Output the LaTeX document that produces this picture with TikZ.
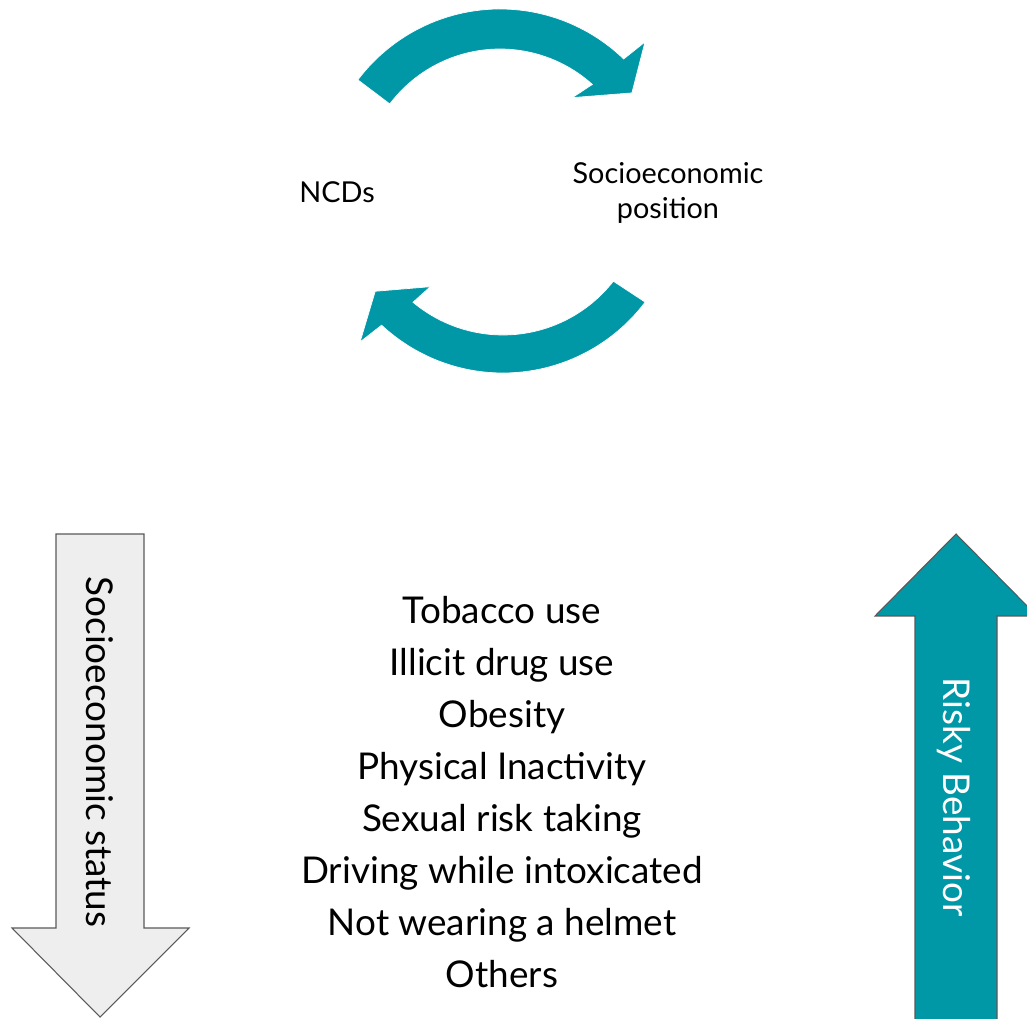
\documentclass[tikz,border=0pt]{standalone}
\usepackage{fontspec}
\setmainfont{Lato}
\definecolor{cycleteal}{HTML}{0097A7}
\definecolor{statusgray}{HTML}{EEEEEE}
\definecolor{edgegray}{HTML}{595959}

\tikzstyle{curved}=[fill=cycleteal, draw=white, line width=0.4pt]
\tikzstyle{block}=[draw=edgegray, line width=0.6pt, line join=miter]
\tikzstyle{caption}=[font=\fontsize{16.4}{19.5}\selectfont, align=center]
\tikzstyle{item}=[font=\fontsize{21}{24}\selectfont, anchor=base, inner sep=0pt]
\tikzstyle{sidetext}=[font=\fontsize{21}{24}\selectfont, rotate=-90, inner sep=0pt]

\begin{document}
\begin{tikzpicture}[x=0.02cm, y=0.02cm]
      \useasboundingbox (0, 0) rectangle (1027, 1018);

      % cycle between the two labels
      \coordinate (top) at (500, 831);
      \coordinate (bot) at (503, 823);
      \fill[curved] ([shift={(top)}]143:178) arc[start angle=143, end angle=46, radius=178]
            -- ([shift={(top)}]45:205) -- ([shift={(top)}]35.5:162)
            -- ([shift={(top)}]51:115) -- ([shift={(top)}]48:138)
            arc[start angle=48, end angle=143, radius=138] -- cycle;
      \fill[curved] ([shift={(bot)}]-37:178) arc[start angle=-37, end angle=-133, radius=178]
            -- ([shift={(bot)}]-134.2:205) -- ([shift={(bot)}]-143:160)
            -- ([shift={(bot)}]-128.4:117) -- ([shift={(bot)}]-130:140)
            arc[start angle=-130, end angle=-38, radius=140] -- cycle;

      \node[caption] (ncd) at (337, 826) {NCDs};
      \node[caption] (sep) at (668, 825) {Socioeconomic\\position};

      % status and risk arrows
      \draw[block, fill=statusgray] (56, 484) -- (144, 484) -- (144, 90) -- (189, 90)
            -- (100, 1) -- (12, 90) -- (56, 90) -- cycle;
      \draw[block, fill=cycleteal] (915, -5) -- (915, 402) -- (875, 402) -- (956, 484)
            -- (1037, 402) -- (997, 402) -- (997, -5);

      \node[sidetext] (ses) at (100, 266) {Socioeconomic status};
      \node[sidetext, text=white] (risk) at (954, 221) {Risky Behavior};

      % list of behaviours
      \node[item] (tob) at (502, 395) {Tobacco use};
      \node[item] (drug) at (502, 343) {Illicit drug use};
      \node[item] (obes) at (502, 291) {Obesity};
      \node[item] (inact) at (502, 239) {Physical Inactivity};
      \node[item] (sex) at (502, 187) {Sexual risk taking};
      \node[item] (drive) at (502, 135) {Driving while intoxicated};
      \node[item] (helm) at (502, 83) {Not wearing a helmet};
      \node[item] (oth) at (502, 31) {Others};
\end{tikzpicture}
\end{document}
